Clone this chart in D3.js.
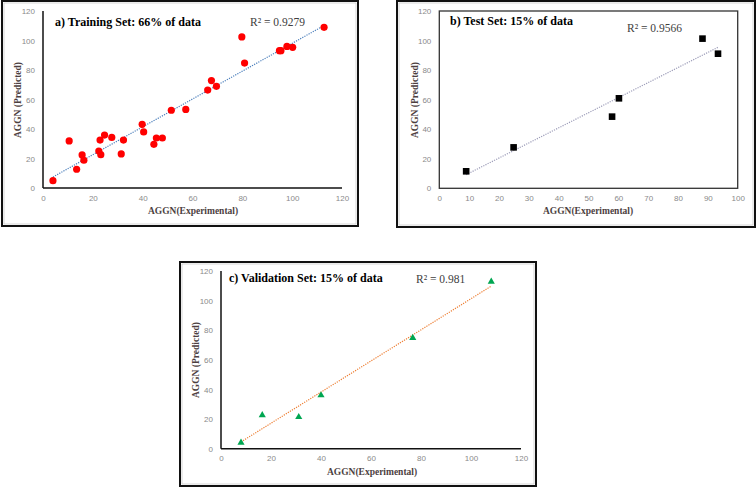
<!DOCTYPE html>
<html><head><meta charset="utf-8">
<script src="https://cdn.jsdelivr.net/npm/d3@7"></script>
<style>body{margin:0;background:#fff}svg{display:block}</style>
</head><body>
<svg id="c" width="756" height="489"></svg>
<script>
// Training set (panel a)
const trainX = [4.0,10.5,13.5,15.7,16.4,22.4,22.9,23.2,24.7,27.6,31.4,32.3,39.8,40.4,44.5,45.5,47.9,51.5,57.3,66.1,67.6,69.6,79.8,80.9,94.9,95.5,97.9,100.2,112.8];
const trainY = [5.0,31.9,12.7,22.4,18.8,25.1,32.5,22.6,35.9,34.3,23.1,32.5,43.2,38.0,29.6,33.9,33.9,52.7,53.3,66.4,72.8,68.9,102.4,84.7,93.1,93.1,96.0,95.4,108.9];
// Test set (panel b)
const testX = [9.0,24.9,57.9,60.2,88.2,93.4];
const testY = [11.5,27.7,48.5,60.9,101.3,91.1];
// Validation set (panel c)
const valX = [8.0,16.5,31.1,40.0,76.7,108.1];
const valY = [4.1,22.6,21.4,36.1,74.8,112.8];
// Tick labels
const ticks120 = [0,20,40,60,80,100,120];
const ticks100 = [0,10,20,30,40,50,60,70,80,90,100];
const titles = ["a) Training Set: 66% of data","b) Test Set: 15% of data","c) Validation Set: 15% of data"];
const r2Labels = ["R² = 0.9279","R² = 0.9566","R² = 0.981"];
const xLabel = "AGGN(Experimental)";
const yLabel = "AGGN (Predicted)";

const svg = d3.select("#c");

function fit(xs, ys){
  const n = xs.length, mx = d3.mean(xs), my = d3.mean(ys);
  let sxy=0, sxx=0;
  for(let i=0;i<n;i++){sxy+=(xs[i]-mx)*(ys[i]-my); sxx+=(xs[i]-mx)**2;}
  const b = sxy/sxx; return {b, a: my-b*mx};
}

function panel(cfg){
  const g = svg.append("g");
  // outer frame
  g.append("rect").attr("x",cfg.frame[0]).attr("y",cfg.frame[1])
    .attr("width",cfg.frame[2]-cfg.frame[0]).attr("height",cfg.frame[3]-cfg.frame[1])
    .attr("fill","none").attr("stroke","#111").attr("stroke-width",2);
  g.append("rect").attr("x",cfg.frame[0]+2).attr("y",cfg.frame[1]+2)
    .attr("width",cfg.frame[2]-cfg.frame[0]-4).attr("height",cfg.frame[3]-cfg.frame[1]-4)
    .attr("fill","none").attr("stroke","#bbb").attr("stroke-width",0.6);
  const x = d3.scaleLinear().domain([0,cfg.xmax]).range([cfg.px[0],cfg.px[1]]);
  const y = d3.scaleLinear().domain([0,120]).range([cfg.py[0],cfg.py[1]]);
  // axes with tick labels only
  const xa = g.append("g").attr("transform",`translate(0,${cfg.py[0]})`)
    .call(d3.axisBottom(x).tickValues(cfg.xticks).tickSize(0).tickPadding(7));
  const ya = g.append("g").attr("transform",`translate(${cfg.px[0]},0)`)
    .call(d3.axisLeft(y).tickValues(ticks120).tickSize(0).tickPadding(8));
  [xa,ya].forEach(a=>{
    a.select(".domain").remove();
    a.selectAll("text").attr("fill","#8a8a8a").attr("font-family","Liberation Sans, Arial, sans-serif").attr("font-size",8);
  });
  if(cfg.box){
    g.append("rect").attr("x",cfg.px[0]).attr("y",cfg.py[1]).attr("width",cfg.px[1]-cfg.px[0])
      .attr("height",cfg.py[0]-cfg.py[1]).attr("fill","none").attr("stroke","#333").attr("stroke-width",1.3);
  } else {
    g.append("line").attr("x1",cfg.px[0]).attr("x2",cfg.px[0]).attr("y1",cfg.py[0]).attr("y2",cfg.py[1])
      .attr("stroke","#111").attr("stroke-width",1.5);
    g.append("line").attr("x1",cfg.px[0]).attr("x2",cfg.px[1]).attr("y1",cfg.py[0]).attr("y2",cfg.py[0])
      .attr("stroke","#111").attr("stroke-width",1.5);
  }
  // trendline
  const f = fit(cfg.xs, cfg.ys);
  const x0 = d3.min(cfg.xs), x1 = d3.max(cfg.xs);
  g.append("line").attr("x1",x(x0)).attr("y1",y(f.a+f.b*x0)).attr("x2",x(x1)).attr("y2",y(f.a+f.b*x1))
    .attr("stroke",cfg.lineColor).attr("stroke-width",1.2).attr("stroke-dasharray","1.2,1.2");
  // points
  const pts = cfg.xs.map((v,i)=>[v,cfg.ys[i]]);
  if(cfg.marker==="circle"){
    g.selectAll("circle.p").data(pts).join("circle").attr("cx",d=>x(d[0])).attr("cy",d=>y(d[1]))
      .attr("r",3.6).attr("fill","#ff0000");
  } else if(cfg.marker==="square"){
    g.selectAll("rect.p").data(pts).join("rect").attr("x",d=>x(d[0])-3.3).attr("y",d=>y(d[1])-3.3)
      .attr("width",6.6).attr("height",6.6).attr("fill","#000");
  } else {
    const sym = d3.symbol().type(d3.symbolTriangle).size(22);
    g.selectAll("path.p").data(pts).join("path").attr("d",sym)
      .attr("transform",d=>`translate(${x(d[0])},${y(d[1])})`).attr("fill","#00a651");
  }
  // title
  g.append("text").attr("x",cfg.title[0]).attr("y",cfg.title[1]).text(cfg.titleText)
    .attr("font-family","Liberation Serif, Times New Roman, serif").attr("font-weight","bold")
    .attr("font-size",12).attr("fill","#000");
  g.append("text").attr("x",cfg.r2[0]).attr("y",cfg.r2[1]).text(cfg.r2Text)
    .attr("font-family","Liberation Serif, Times New Roman, serif").attr("font-size",11.5).attr("fill","#404040");
  // axis labels
  g.append("text").attr("x",cfg.xl[0]).attr("y",cfg.xl[1]).attr("text-anchor","middle").text(xLabel)
    .attr("font-family","Liberation Serif, Times New Roman, serif").attr("font-weight","bold")
    .attr("font-size",9.5).attr("fill","#4d3f3f");
  g.append("text").attr("transform",`translate(${cfg.yl[0]},${cfg.yl[1]}) rotate(-90)`)
    .attr("text-anchor","middle").text(yLabel)
    .attr("font-family","Liberation Serif, Times New Roman, serif").attr("font-weight","bold")
    .attr("font-size",9.5).attr("fill","#4d3f3f");
}

panel({frame:[2,1,358,226], px:[43,342], py:[188,11], xmax:120, xticks:ticks120, box:false,
  xs:trainX, ys:trainY, marker:"circle", lineColor:"#4a7ebb",
  title:[55,26], titleText:titles[0], r2:[250,26], r2Text:r2Labels[0], xl:[193,214], yl:[21,100]});
panel({frame:[397,1,755,227], px:[439.3,737.7], py:[188.3,11], xmax:100, xticks:ticks100, box:true,
  xs:testX, ys:testY, marker:"square", lineColor:"#9c9cb8",
  title:[450,25], titleText:titles[1], r2:[627,32], r2Text:r2Labels[1], xl:[588,214], yl:[418,100]});
panel({frame:[180,262,536,486], px:[221,521], py:[448.7,271], xmax:120, xticks:ticks120, box:false,
  xs:valX, ys:valY, marker:"triangle", lineColor:"#ed7d31",
  title:[229,282], titleText:titles[2], r2:[416,283], r2Text:r2Labels[2], xl:[372,475], yl:[199,360]});
</script>
</body></html>
